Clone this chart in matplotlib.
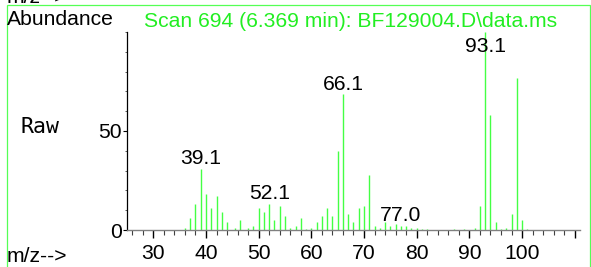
import matplotlib
matplotlib.use("Agg")
import matplotlib.pyplot as plt
from matplotlib.patches import Rectangle
from matplotlib.ticker import MultipleLocator

# ---- data ----
mz = [36, 37, 38, 39, 40, 41, 42, 43, 44, 45.5, 46.5, 48, 49, 50, 51, 52, 53, 54, 55,
      56, 57, 58, 59, 60, 61, 62, 63, 64, 65, 66, 67, 68, 69, 70, 71, 72, 73, 74, 75,
      76, 77, 78, 79, 80, 81, 82, 87, 89, 91, 92, 93, 94, 95, 96, 97, 98, 99, 100, 101]
abund = [1.0, 5.9, 13.1, 30.8, 18.2, 11.1, 17.2, 9.1, 4.0, 1.0, 5.0, 1.0, 2.0, 11.1, 9.1, 13.1, 5.0, 12.1, 7.1,
         1.2, 2.0, 6.2, 0.3, 0.8, 4.0, 7.0, 11.0, 7.0, 40.0, 68.5, 8.0, 4.0, 11.0, 12.0, 27.8, 2.0, 1.0, 4.0, 2.0,
         3.0, 2.0, 2.0, 1.0, 1.0, 0.7, 0.7, 0.3, 0.3, 1.0, 12.0, 100.0, 58.0, 4.0, 0.3, 1.0, 8.0, 77.0, 5.0, 0.3]
label_mz = [39, 52, 66, 77, 93]
label_text = ["39.1", "52.1", "66.1", "77.0", "93.1"]
xticks_major = [30, 40, 50, 60, 70, 80, 90, 100, 110]
xtick_labels = ["30", "40", "50", "60", "70", "80", "90", "100", ""]
yticks_major = [0, 50]
title = "Scan 694 (6.369 min): BF129004.D\\data.ms"

W, H = 591, 267
fig = plt.figure(figsize=(W / 100, H / 100), dpi=100)
FONT = "Liberation Sans"
FS = 15.2
green = "#22ee22"

ax = fig.add_axes([127 / W, (H - 230) / H, 453 / W, 198 / H])
ax.set_xlim(25, 111)
ax.set_ylim(0, 100)
ax.vlines(mz, 0, abund, colors="#44ff44", linewidth=1.0)

for m, t in zip(label_mz, label_text):
    h = abund[mz.index(m)]
    ax.annotate(t, (m, min(h, 87.7)), xytext=(0, 3.3), textcoords="offset points",
                ha="center", va="baseline", fontsize=FS, family=FONT, color="black")

for s in ["top", "right"]:
    ax.spines[s].set_visible(False)
ax.spines["bottom"].set_color("#808080")
ax.spines["bottom"].set_linewidth(1.0)
ax.spines["left"].set_color("black")
ax.spines["left"].set_linewidth(0.9)

ax.set_xticks(xticks_major)
ax.set_xticklabels(xtick_labels)
ax.xaxis.set_minor_locator(MultipleLocator(2))
ax.tick_params(axis="x", which="major", direction="out", length=6, width=1.0,
               color="black", pad=4.0, labelsize=FS)
ax.tick_params(axis="x", which="minor", direction="out", length=3.6, width=0.8,
               color="#404040")
ax.set_yticks(yticks_major)
ax.yaxis.set_minor_locator(MultipleLocator(10))
ax.tick_params(axis="y", which="major", direction="out", length=3, width=0.8,
               color="black", pad=0.5, labelsize=FS)
ax.tick_params(axis="y", which="minor", direction="out", length=1.5, width=0.6,
               color="#404040")
for lab in ax.get_xticklabels() + ax.get_yticklabels():
    lab.set_family(FONT)

# frame
fig.add_artist(Rectangle((7 / W, -0.2), (590 - 7) / W, 1.2 - 5 / H,
                         transform=fig.transFigure, fill=False,
                         edgecolor="#55ff55", linewidth=0.9))

fig.text(7 / W, 1 - 25 / H, "Abundance", fontsize=FS, family=FONT, va="baseline", ha="left")
fig.text(144 / W, 1 - 27 / H, title, fontsize=FS, family=FONT, va="baseline", ha="left", color=green)
fig.text(21 / W, 1 - 133 / H, "Raw", fontsize=15.5, family="DejaVu Sans Mono", va="baseline", ha="left")
fig.text(7 / W, 1 - 261.5 / H, "m/z-->", fontsize=FS, family=FONT, va="baseline", ha="left")
fig.text(7 / W, 1 - 2.7 / H, "m/z-->", fontsize=FS, family=FONT, va="baseline", ha="left")

fig.savefig("out.png", dpi=100)
